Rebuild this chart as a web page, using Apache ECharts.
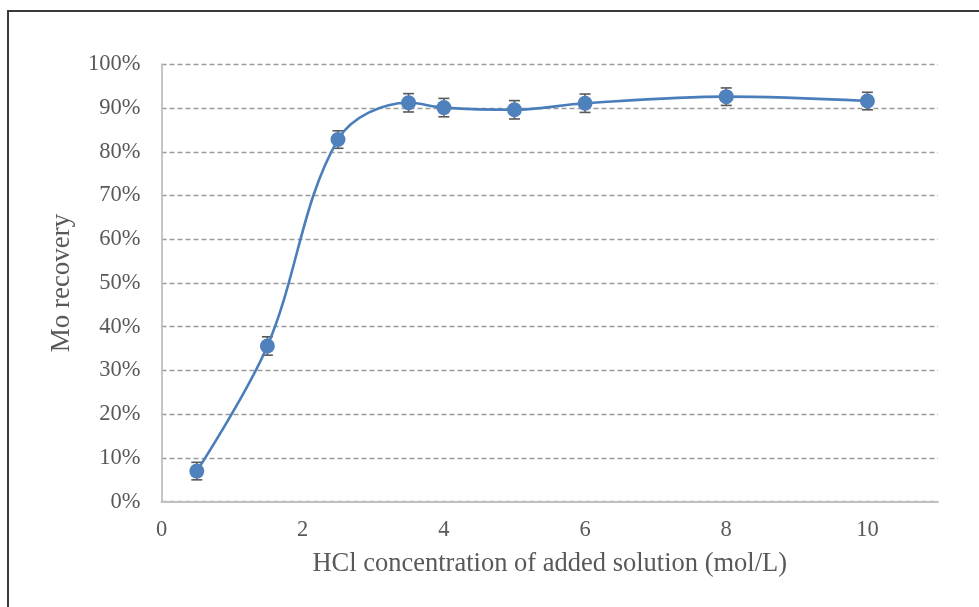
<!DOCTYPE html>
<html>
<head>
<meta charset="utf-8">
<script src="https://cdn.jsdelivr.net/npm/echarts@6/dist/echarts.min.js"></script>
<style>
  html, body { margin: 0; padding: 0; background: #fff; }
  #chart { width: 979px; height: 607px; }
</style>
</head>
<body>
<div id="chart"></div>
<script>
// HCl concentration of the added solution (mol/L)
const concentration = [0.5, 1.5, 2.5, 3.5, 4, 5, 6, 8, 10];
// Mo recovery (%)
const recovery = [7.0, 35.6, 82.8, 91.2, 90.1, 89.6, 91.1, 92.6, 91.6];
// Standard deviation of the recovery (%)
const recoveryError = [2.0, 2.1, 2.0, 2.1, 2.1, 2.1, 2.1, 2.0, 2.0];
// Tick settings
const xTicks = { min: 0, max: 11, interval: 2 };
const yTicks = { min: 0, max: 100, interval: 10 };

const textColor = '#595959';
const fontFamily = '"Liberation Serif", "Times New Roman", serif';

const points = concentration.map((x, i) => [x, recovery[i]]);
const bars = concentration.map((x, i) => [x, recovery[i] - recoveryError[i], recovery[i] + recoveryError[i]]);

const chart = echarts.init(document.getElementById('chart'), null, { renderer: 'canvas' });

chart.setOption({
  backgroundColor: '#ffffff',
  animation: false,
  grid: { left: 161.5, right: 41, top: 64.3, bottom: 105.3, containLabel: false },
  graphic: [
    {
      type: 'polyline',
      shape: { points: [[8, 607], [8, 11], [979, 11]] },
      style: { stroke: '#3a3a3a', lineWidth: 2, fill: null },
      silent: true
    }
  ],
  xAxis: {
    type: 'value',
    min: xTicks.min,
    max: xTicks.max,
    interval: xTicks.interval,
    name: 'HCl concentration of added solution (mol/L)',
    nameLocation: 'middle',
    nameGap: 49,
    nameTextStyle: { color: textColor, fontFamily, fontSize: 26.5 },
    axisLine: { show: true, onZero: false, lineStyle: { color: '#BFBFBF', width: 1.8 } },
    axisTick: { show: false },
    splitLine: { show: false },
    axisLabel: {
      color: textColor, fontFamily, fontSize: 22.5, margin: 17,
      showMaxLabel: false,
      formatter: v => (v > 10 ? '' : String(v))
    }
  },
  yAxis: {
    type: 'value',
    min: yTicks.min,
    max: yTicks.max,
    interval: yTicks.interval,
    name: 'Mo recovery',
    nameLocation: 'middle',
    nameGap: 86,
    nameTextStyle: { color: textColor, fontFamily, fontSize: 27 },
    axisLine: { show: true, lineStyle: { color: '#BFBFBF', width: 1.8 } },
    axisTick: { show: false },
    splitLine: { show: true, lineStyle: { color: '#9a9a9a', width: 1.3, type: [5, 3] } },
    axisLabel: {
      color: textColor, fontFamily, fontSize: 22.5, margin: 21,
      formatter: '{value}%'
    }
  },
  series: [
    {
      type: 'custom',
      name: 'error',
      z: 2,
      data: bars,
      encode: { x: 0, y: [1, 2] },
      renderItem: function (params, api) {
        const x = api.value(0);
        const lo = api.coord([x, api.value(1)]);
        const hi = api.coord([x, api.value(2)]);
        const cap = 5.5;
        const style = { stroke: '#595959', lineWidth: 1.6 };
        return {
          type: 'group',
          children: [
            { type: 'line', shape: { x1: lo[0], y1: lo[1], x2: hi[0], y2: hi[1] }, style },
            { type: 'line', shape: { x1: lo[0] - cap, y1: lo[1], x2: lo[0] + cap, y2: lo[1] }, style },
            { type: 'line', shape: { x1: hi[0] - cap, y1: hi[1], x2: hi[0] + cap, y2: hi[1] }, style }
          ]
        };
      }
    },
    {
      type: 'line',
      name: 'Mo recovery',
      z: 3,
      data: points,
      smooth: 0.35,
      symbol: 'circle',
      symbolSize: 15,
      lineStyle: { color: '#4A7EBB', width: 2.6 },
      itemStyle: { color: '#4F81BD' }
    }
  ]
});
</script>
</body>
</html>
